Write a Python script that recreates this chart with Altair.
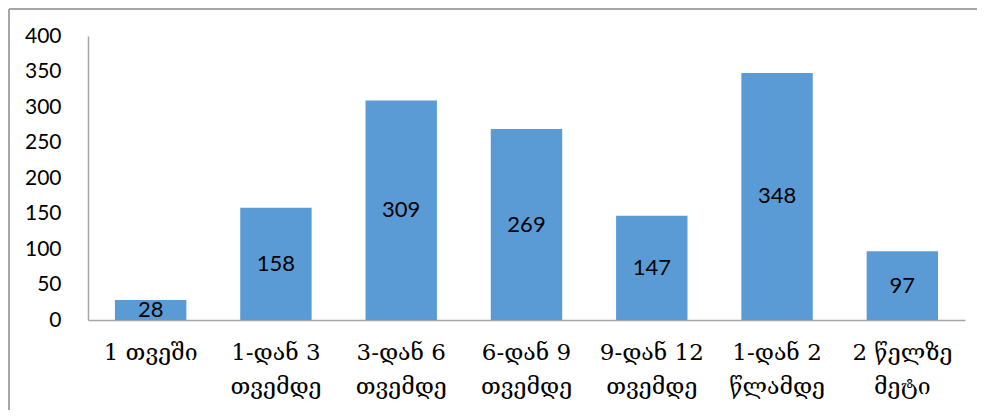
import altair as alt
import pandas as pd

categories = ["1 თვეში", "1-დან 3\nთვემდე", "3-დან 6\nთვემდე", "6-დან 9\nთვემდე",
              "9-დან 12\nთვემდე", "1-დან 2\nწლამდე", "2 წელზე\nმეტი"]
values = [28, 158, 309, 269, 147, 348, 97]
y_ticks = [0, 50, 100, 150, 200, 250, 300, 350, 400]

df = pd.DataFrame({"cat": categories, "val": values})

W, H = 877, 284

x_scale = alt.Scale(paddingInner=0.43, paddingOuter=0.215)
x_axis = alt.Axis(labelAngle=0, labelExpr="split(datum.label, '\\n')",
                  labelFont="DejaVu Serif", labelFontSize=23,
                  labelLineHeight=34, labelPadding=21, labelColor="#000000",
                  ticks=False, domainColor="#A6A6A6", domainWidth=1.5,
                  labelBaseline="top")
y_scale = alt.Scale(domain=[0, 400], nice=False)
y_axis = alt.Axis(values=y_ticks, grid=False, ticks=False, labelOverlap=False,
                  labelFont="Lato", labelFontSize=21, labelColor="#000000",
                  labelPadding=27, domainColor="#A6A6A6", domainWidth=1.5)

bars = alt.Chart(df).mark_bar(color="#5B9BD5").encode(
    x=alt.X("cat:N", sort=categories, title=None, scale=x_scale, axis=x_axis),
    y=alt.Y("val:Q", title=None, scale=y_scale, axis=y_axis))

text = alt.Chart(df).transform_calculate(mid="datum.val / 2").mark_text(
    font="Lato", fontSize=22, color="#000000", baseline="middle"
).encode(x=alt.X("cat:N", sort=categories, title=None, scale=x_scale, axis=x_axis),
         y=alt.Y("mid:Q", title=None, scale=y_scale, axis=y_axis),
         text="val:Q")

one = pd.DataFrame({"a": [0]})
frame_top = alt.Chart(one).mark_rule(color="#A6A6A6", strokeWidth=2, clip=False).encode(
    x=alt.value(-79), x2=alt.value(W + 150), y=alt.value(-27))
frame_left = alt.Chart(one).mark_rule(color="#A6A6A6", strokeWidth=2, clip=False).encode(
    x=alt.value(-79), y=alt.value(-27), y2=alt.value(H + 200))

chart = alt.layer(frame_top, frame_left, bars, text).properties(
    width=W, height=H,
    padding={"left": 80, "top": 28, "right": 12, "bottom": 90},
    autosize=alt.AutoSizeParams(type="none"),
).configure(background="white").configure_view(stroke=None, strokeWidth=0)

chart.save("out.html", embed_options={"renderer": "svg", "actions": False})
